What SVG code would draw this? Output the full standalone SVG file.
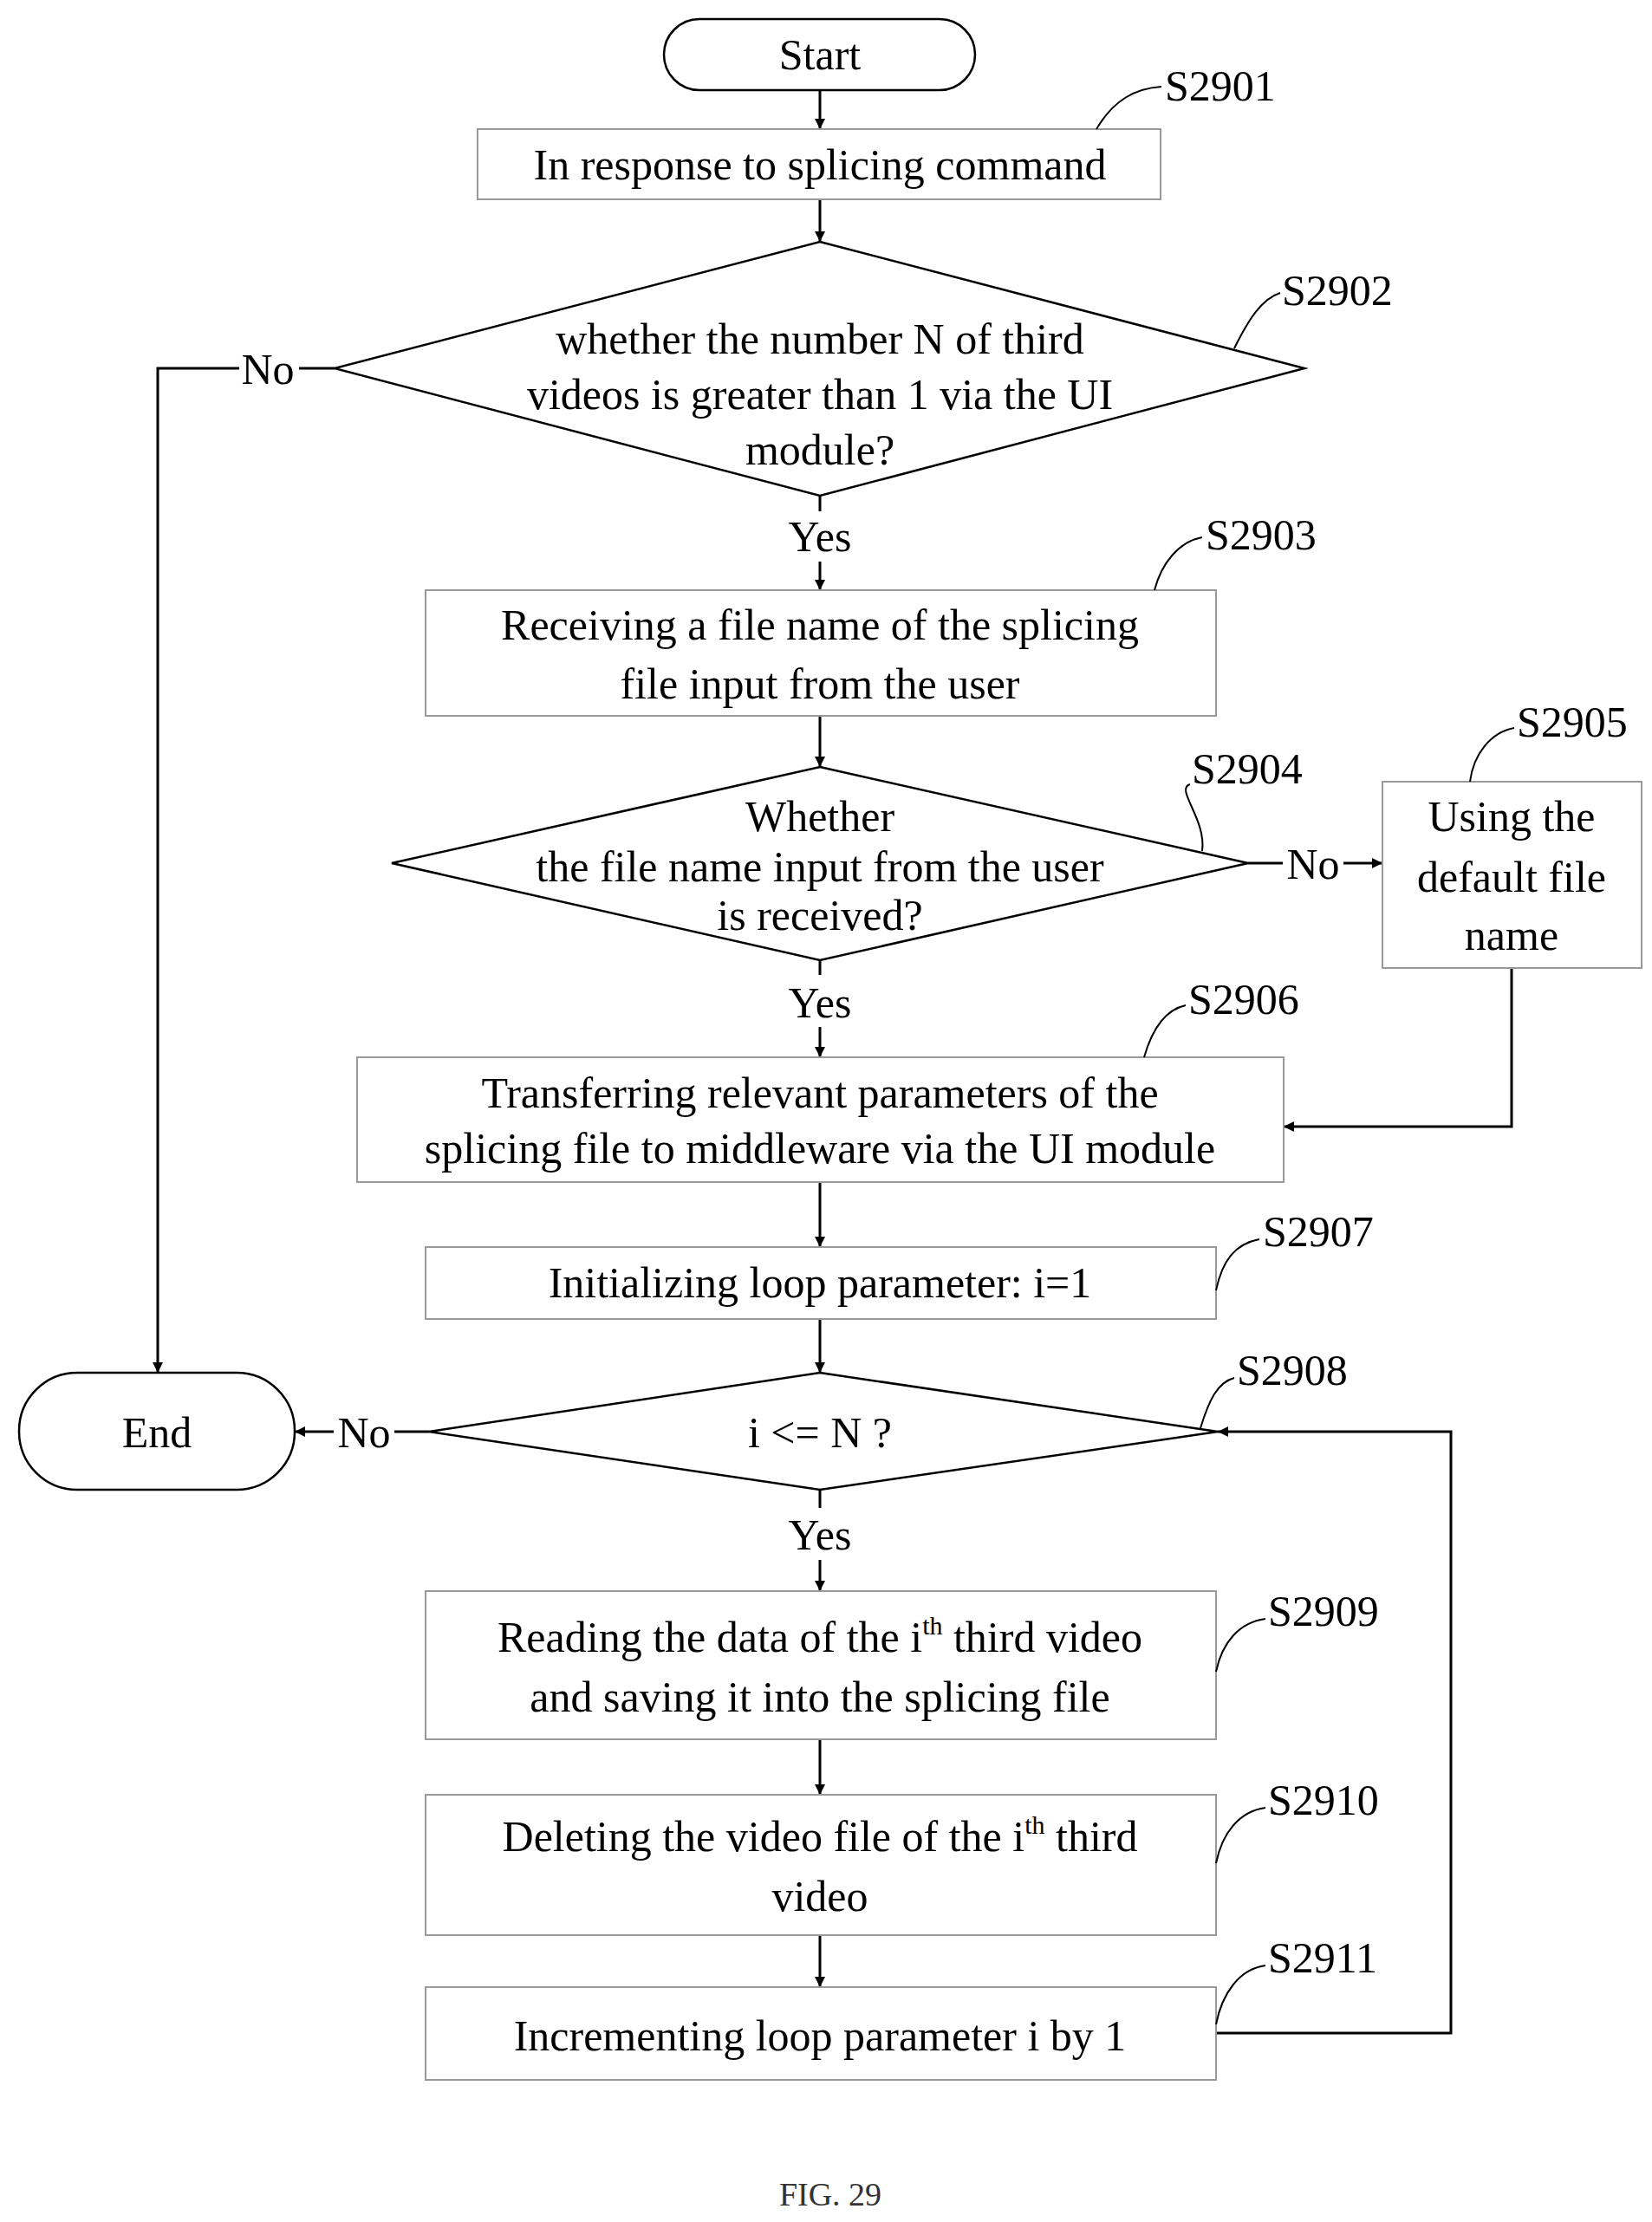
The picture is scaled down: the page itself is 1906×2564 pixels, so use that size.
<svg xmlns="http://www.w3.org/2000/svg" width="1906" height="2564" viewBox="0 0 1906 2564">
<defs>
<marker id="ah" viewBox="0 0 10 10" refX="10" refY="5" markerWidth="12" markerHeight="12" markerUnits="userSpaceOnUse" orient="auto"><path d="M0,0 L10,5 L0,10 z" fill="#000"/></marker>
<style>
text{font-family:"Liberation Serif","Times New Roman",serif;font-size:50px;fill:#000;text-anchor:middle}
.lbl{text-anchor:start}
.box{fill:#fff;stroke:#999;stroke-width:2}
.sh{fill:#fff;stroke:#000;stroke-width:2.5}
.ln{fill:none;stroke:#000;stroke-width:3}
.ld{fill:none;stroke:#000;stroke-width:2}
.sup{font-size:30px}
</style>
</defs>
<rect width="1906" height="2564" fill="#fff"/>
<g id="connectors">
<path class="ln" d="M946,104 V149" marker-end="url(#ah)"/>
<path class="ln" d="M946,230 V279" marker-end="url(#ah)"/>
<path class="ln" d="M946,572 V590"/>
<path class="ln" d="M946,648 V681" marker-end="url(#ah)"/>
<path class="ln" d="M946,826 V885" marker-end="url(#ah)"/>
<path class="ln" d="M946,1108 V1125"/>
<path class="ln" d="M946,1185 V1220" marker-end="url(#ah)"/>
<path class="ln" d="M386,425 H345"/>
<path class="ln" d="M276,425 H182 V1584" marker-end="url(#ah)"/>
<path class="ln" d="M1440,996 H1480"/>
<path class="ln" d="M1550,996 H1595" marker-end="url(#ah)"/>
<path class="ln" d="M1744,1117 V1300 H1481" marker-end="url(#ah)"/>
<path class="ln" d="M946,1364 V1439" marker-end="url(#ah)"/>
<path class="ln" d="M946,1522 V1584" marker-end="url(#ah)"/>
<path class="ln" d="M495,1652 H455"/>
<path class="ln" d="M385,1652 H340" marker-end="url(#ah)"/>
<path class="ln" d="M946,1719 V1740"/>
<path class="ln" d="M946,1800 V1836" marker-end="url(#ah)"/>
<path class="ln" d="M946,2007 V2071" marker-end="url(#ah)"/>
<path class="ln" d="M946,2233 V2293" marker-end="url(#ah)"/>
<path class="ln" d="M1403,2346 H1674 V1652 H1405" marker-end="url(#ah)"/>
<text x="309" y="443">No</text>
<text x="946" y="636">Yes</text>
<text x="1515" y="1014">No</text>
<text x="946" y="1174">Yes</text>
<text x="420" y="1670">No</text>
<text x="946" y="1788">Yes</text>
</g>
<g id="start"><rect class="sh" x="766" y="22" width="359" height="82" rx="41"/><text x="946" y="80">Start</text></g>
<g id="s2901"><rect class="box" x="551" y="149" width="788" height="81"/><text x="946" y="207">In response to splicing command</text>
<path class="ld" d="M1265,149 C1285,115 1310,102 1340,100"/><text class="lbl" x="1344" y="116">S2901</text></g>
<g id="s2902"><polygon class="sh" points="946,279 1505,425 946,572 386,425"/>
<text x="946" y="408">whether the number N of third</text><text x="946" y="472">videos is greater than 1 via the UI</text><text x="946" y="536">module?</text>
<path class="ld" d="M1424,402 C1440,370 1455,345 1477,338"/><text class="lbl" x="1479" y="352">S2902</text></g>
<g id="s2903"><rect class="box" x="491" y="681" width="912" height="145"/>
<text x="946" y="738">Receiving a file name of the splicing</text><text x="946" y="806">file input from the user</text>
<path class="ld" d="M1332,681 C1340,650 1360,625 1387,620"/><text class="lbl" x="1391" y="634">S2903</text></g>
<g id="s2904"><polygon class="sh" points="946,885 1440,996 946,1108 452,996"/>
<text x="946" y="959">Whether</text><text x="946" y="1017">the file name input from the user</text><text x="946" y="1073">is received?</text>
<path class="ld" d="M1387,982 C1392,945 1355,910 1373,905"/><text class="lbl" x="1375" y="904">S2904</text></g>
<g id="s2905"><rect class="box" x="1595" y="902" width="299" height="215"/>
<text x="1744" y="959">Using the</text><text x="1744" y="1029">default file</text><text x="1744" y="1096">name</text>
<path class="ld" d="M1696,902 C1700,870 1720,845 1747,840"/><text class="lbl" x="1750" y="850">S2905</text></g>
<g id="s2906"><rect class="box" x="412" y="1220" width="1069" height="144"/>
<text x="946" y="1278">Transferring relevant parameters of the</text><text x="946" y="1342">splicing file to middleware via the UI module</text>
<path class="ld" d="M1320,1220 C1330,1185 1345,1165 1368,1160"/><text class="lbl" x="1371" y="1170">S2906</text></g>
<g id="s2907"><rect class="box" x="491" y="1439" width="912" height="83"/><text x="946" y="1497">Initializing loop parameter: i=1</text>
<path class="ld" d="M1403,1489 C1410,1455 1425,1435 1453,1430"/><text class="lbl" x="1457" y="1438">S2907</text></g>
<g id="s2908"><polygon class="sh" points="946,1584 1405,1652 946,1719 495,1652"/><text x="946" y="1670">i &lt;= N ?</text>
<path class="ld" d="M1385,1648 C1395,1615 1405,1595 1424,1590"/><text class="lbl" x="1427" y="1598">S2908</text></g>
<g id="end"><rect class="sh" x="22" y="1584" width="318" height="135" rx="67"/><text x="181" y="1670">End</text></g>
<g id="s2909"><rect class="box" x="491" y="1836" width="912" height="171"/>
<text x="946" y="1906">Reading the data of the i<tspan class="sup" dy="-20">th</tspan><tspan dy="20"> third video</tspan></text><text x="946" y="1975">and saving it into the splicing file</text>
<path class="ld" d="M1403,1929 C1410,1895 1430,1872 1460,1868"/><text class="lbl" x="1463" y="1876">S2909</text></g>
<g id="s2910"><rect class="box" x="491" y="2071" width="912" height="162"/>
<text x="946" y="2136">Deleting the video file of the i<tspan class="sup" dy="-20">th</tspan><tspan dy="20"> third</tspan></text><text x="946" y="2205">video</text>
<path class="ld" d="M1403,2150 C1410,2115 1430,2090 1460,2086"/><text class="lbl" x="1463" y="2094">S2910</text></g>
<g id="s2911"><rect class="box" x="491" y="2293" width="912" height="107"/><text x="946" y="2366">Incrementing loop parameter i by 1</text>
<path class="ld" d="M1403,2336 C1410,2300 1430,2272 1460,2268"/><text class="lbl" x="1463" y="2276">S2911</text></g>
<text x="958" y="2545" style="font-size:38px;fill:#333">FIG. 29</text>
</svg>
